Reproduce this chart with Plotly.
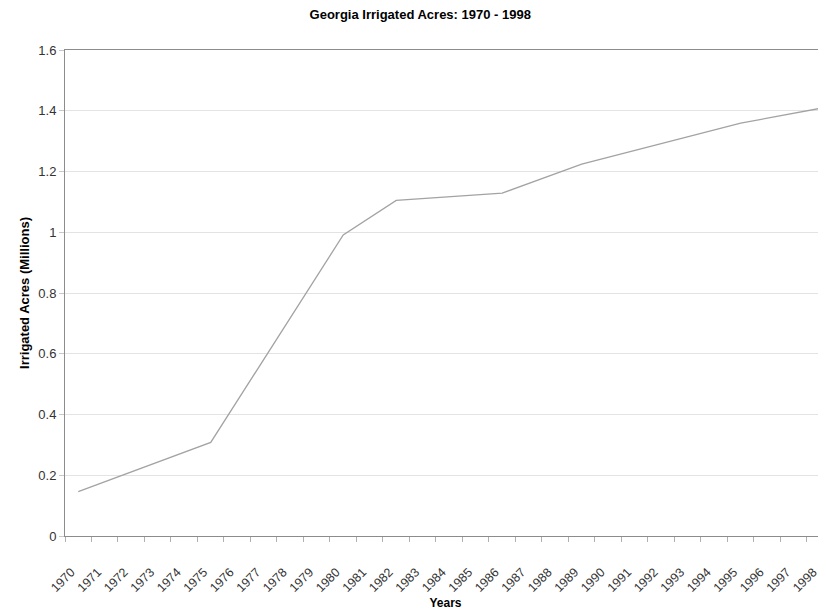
import plotly.graph_objects as go

years = [str(y) for y in range(1970, 1999)]
# values (millions of acres) read at the line's vertices; other years have no point
known = {
    "1970": 0.146,
    "1975": 0.308,
    "1980": 0.991,
    "1982": 1.105,
    "1986": 1.129,
    "1989": 1.224,
    "1995": 1.359,
    "1998": 1.408,
}
acres = [known.get(y) for y in years]

title_text = "Georgia Irrigated Acres: 1970 - 1998"
x_title = "Years"
y_title = "Irrigated Acres (Millions)"
y_ticks = [0, 0.2, 0.4, 0.6, 0.8, 1, 1.2, 1.4, 1.6]

fig = go.Figure()
fig.add_trace(go.Scatter(
    x=years, y=acres, mode="lines", connectgaps=True,
    line=dict(color="#a3a3a3", width=1.3), showlegend=False,
))

font_fam = "Liberation Sans, Arial, sans-serif"
fig.update_layout(
    width=818, height=607,
    margin=dict(l=57, r=0, t=42, b=79),
    paper_bgcolor="white", plot_bgcolor="white",
    title=dict(text=title_text, x=0.504, xanchor="center", y=0.990, yanchor="middle",
               font=dict(family=font_fam, size=13, color="black", weight="bold")),
    font=dict(family=font_fam),
)
fig.update_xaxes(
    type="category", range=[-0.5, 28.22], automargin=False,
    tickson="boundaries", ticks="outside", ticklen=5, tickcolor="#b0b0b0",
    tickangle=-45, tickfont=dict(size=12.5, color="#333333"),
    ticklabelshift=-7, ticklabelstandoff=23,
    showline=True, linecolor="#8c8c8c", linewidth=1, mirror=True,
    showgrid=False,
    title=dict(text=x_title, font=dict(size=12, color="black", weight="bold"), standoff=4),
)
fig.update_yaxes(
    range=[0, 1.6], tickvals=y_ticks, ticktext=[f"{v:g}" for v in y_ticks],
    automargin=False,
    ticks="outside", ticklen=5, tickcolor="#c8c8c8",
    tickfont=dict(size=13, color="#333333"),
    showline=True, linecolor="#8c8c8c", linewidth=1, mirror=True,
    showgrid=True, gridcolor="#e3e3e3", gridwidth=1, zeroline=False,
    title=dict(text=y_title, font=dict(size=13, color="black", weight="bold"), standoff=5),
)
fig.write_html("out.html")
